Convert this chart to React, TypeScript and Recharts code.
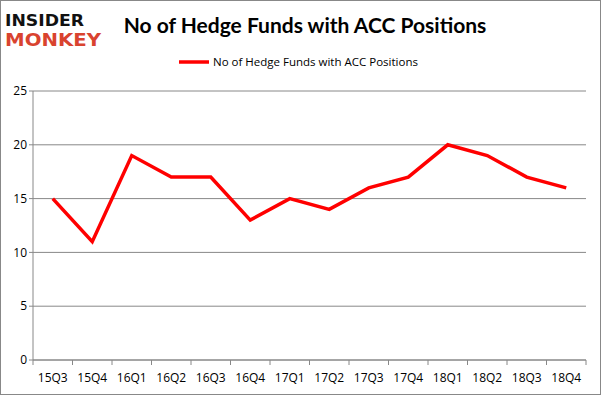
import { CartesianGrid, Line, LineChart, XAxis, YAxis } from "recharts"

const quarters = ["15Q3", "15Q4", "16Q1", "16Q2", "16Q3", "16Q4", "17Q1", "17Q2", "17Q3", "17Q4", "18Q1", "18Q2", "18Q3", "18Q4"]
const hedgeFunds = [15, 11, 19, 17, 17, 13, 15, 14, 16, 17, 20, 19, 17, 16]
const yTicks = [0, 5, 10, 15, 20, 25]
const seriesName = "No of Hedge Funds with ACC Positions"

const chartData = quarters.map((q, i) => ({ name: q, value: hedgeFunds[i] }))

const W = 601
const H = 396
const PLOT_LEFT = 33
const PLOT_RIGHT = 586
const BAND = (PLOT_RIGHT - PLOT_LEFT) / quarters.length

const XTick = (props: any) => {
    const { x, y, payload, index } = props
    const left = x - BAND / 2
    return (
        <g>
            <line x1={left} y1={y - 8} x2={left} y2={y - 3} stroke="#888888" />
            {index === quarters.length - 1 && (
                <line x1={left + BAND} y1={y - 8} x2={left + BAND} y2={y - 3} stroke="#888888" />
            )}
            <text x={x} y={y + 14} textAnchor="middle" fontSize={12} fill="#000" fontFamily="'Open Sans', sans-serif">
                {payload.value}
            </text>
        </g>
    )
}

export default function App() {
    return (
        <div style={{ position: "absolute", left: 0, top: 0, width: W, height: H, background: "#fff" }}>
            <svg width={W} height={H} style={{ position: "absolute", left: 0, top: 0 }}>
                <rect x={0.5} y={0.5} width={W - 1} height={H - 2} fill="#fff" stroke="#888888" />
                <text x={5} y={26} fontSize={16} fontWeight={900} fill="#111" fontFamily="'DejaVu Sans', sans-serif"
                    textLength={79} lengthAdjust="spacingAndGlyphs">
                    INSIDER
                </text>
                <text x={5} y={46} fontSize={17} fontWeight={900} fill="#d9432f" fontFamily="'DejaVu Sans', sans-serif"
                    textLength={96} lengthAdjust="spacingAndGlyphs">
                    MONKEY
                </text>
                <text x={305} y={33} textAnchor="middle" fontSize={21} fontWeight={700} fill="#000" fontFamily="Lato, sans-serif">
                    {seriesName}
                </text>
                <line x1={179} y1={62} x2={209} y2={62} stroke="#ff0000" strokeWidth={3.5} />
                <text x={213} y={66} fontSize={11.5} fill="#000" fontFamily="'Open Sans', sans-serif">
                    {seriesName}
                </text>
            </svg>
            <div style={{ position: "absolute", left: 0, top: 0 }}>
                <LineChart width={W} height={H} data={chartData} margin={{ top: 91, right: W - PLOT_RIGHT, bottom: 0, left: 0 }}>
                    <CartesianGrid vertical={false} stroke="#888888" strokeWidth={1} />
                    <XAxis
                        dataKey="name"
                        scale="band"
                        height={36}
                        stroke="#888888"
                        tickLine={false}
                        tick={<XTick />}
                        interval={0}
                    />
                    <YAxis
                        width={PLOT_LEFT}
                        domain={[0, 25]}
                        ticks={yTicks}
                        stroke="#888888"
                        tickSize={4}
                        tick={{ fill: "#000", fontSize: 12, fontFamily: "'Open Sans', sans-serif" }}
                    />
                    <Line
                        type="linear"
                        dataKey="value"
                        name={seriesName}
                        stroke="#ff0000"
                        strokeWidth={3.5}
                        dot={false}
                        isAnimationActive={false}
                    />
                </LineChart>
            </div>
        </div>
    )
}
